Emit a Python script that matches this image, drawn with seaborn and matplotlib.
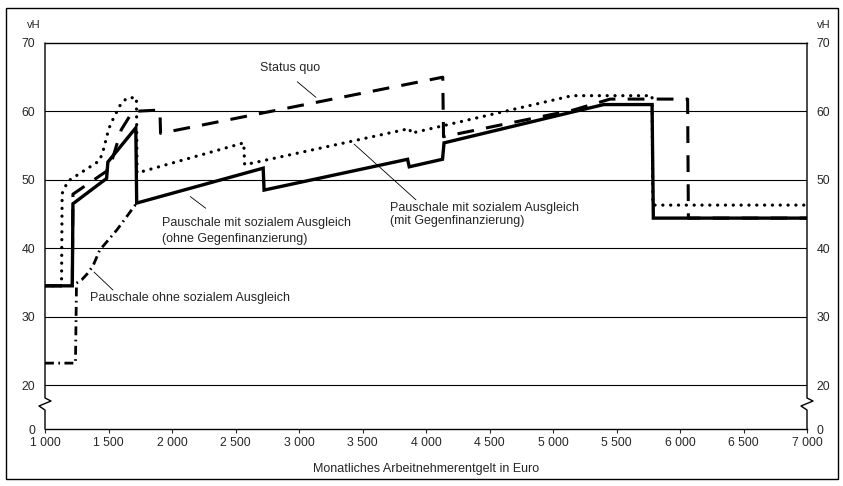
import numpy as np
import pandas as pd
import seaborn as sns
import matplotlib
matplotlib.use("Agg")
from matplotlib import pyplot as plt
from matplotlib.patches import Rectangle

# Grenzbelastung in vH nach monatlichem Arbeitnehmerentgelt (Euro)
solid_x = [1000, 1215, 1220, 1485, 1495, 1715, 1722, 2718, 2725, 3855, 3868, 4130, 4142, 5150, 5400, 5780, 5790, 7000]
solid_y = [34.5, 34.5, 46.5, 50.2, 52.6, 57.6, 46.6, 51.7, 48.5, 53.0, 51.9, 53.0, 55.4, 59.9, 61.0, 61.0, 44.4, 44.4]

dotted_x = [1000, 1130, 1135, 1180, 1430, 1460, 1500, 1520, 1600, 1650, 1720, 1725, 2565, 2572, 3872, 3880, 5150, 5780, 5786, 7000]
dotted_y = [34.5, 34.5, 48.0, 49.8, 52.8, 54.4, 57.3, 58.3, 61.2, 62.0, 62.0, 51.0, 55.4, 52.2, 57.5, 56.8, 62.3, 62.3, 46.3, 46.3]

status_x = [1000, 1215, 1220, 1488, 1495, 1530, 1600, 1690, 1905, 1910, 4132, 4138, 5160, 5450, 6060, 6066, 7000]
status_y = [34.5, 34.5, 47.9, 51.3, 52.5, 53.0, 57.3, 60.0, 60.2, 56.8, 65.0, 56.3, 60.2, 61.8, 61.8, 44.4, 44.4]

ohne_x = [1000, 1240, 1248, 1290, 1340, 1380, 1430, 1567, 1722]
ohne_y = [23.2, 23.2, 34.9, 35.4, 36.4, 37.5, 39.7, 42.7, 46.6]

x_ticks = [1000, 1500, 2000, 2500, 3000, 3500, 4000, 4500, 5000, 5500, 6000, 6500, 7000]
y_ticks = [0, 20, 30, 40, 50, 60, 70]

sns.set_style("white")
plt.rcParams["font.family"] = ["Liberation Sans", "DejaVu Sans"]
plt.rcParams["font.size"] = 9

W, H = 843, 486
fig = plt.figure(figsize=(W / 100, H / 100), dpi=100)
ax = fig.add_axes([45 / W, 1 - 429 / H, 762 / W, 386 / H])

# squeeze the 0-20 band (axis break)
SQ = 0.3215
def fwd(y):
    y = np.asarray(y, dtype=float)
    return np.where(y >= 20, y, 20 - (20 - y) * SQ)
def inv(z):
    z = np.asarray(z, dtype=float)
    return np.where(z >= 20, z, 20 - (20 - z) / SQ)
ax.set_yscale("function", functions=(fwd, inv))

styles = [
    (ohne_x, ohne_y, dict(lw=2.0, ls=(0, (3.2, 1.6, 0.6, 1.6)))),
    (status_x, status_y, dict(lw=2.2, ls=(0, (5.5, 4.0)))),
    (dotted_x, dotted_y, dict(lw=2.3, ls=(0, (0.05, 2.4)), dash_capstyle="round")),
    (solid_x, solid_y, dict(lw=2.4, ls="-")),
]
for xs, ys, kw in styles:
    df = pd.DataFrame({"x": xs, "y": ys})
    sns.lineplot(data=df, x="x", y="y", ax=ax, sort=False, estimator=None,
                 color="black", solid_joinstyle="miter", **kw)

ax.set_xlim(1000, 7000)
ax.set_ylim(0, 70)
ax.set_xticks(x_ticks)
ax.set_xticklabels([f"{v:,}".replace(",", " ") for v in x_ticks])
ax.set_yticks(y_ticks)
ax.set_yticklabels([str(v) for v in y_ticks])
ax.tick_params(axis="x", direction="out", length=3, width=0.8, pad=3, labelsize=8.8, bottom=True)
ax.tick_params(axis="y", length=0, pad=7, labelsize=8.8, left=False, right=False,
               labelleft=True, labelright=True)
ax.set_xlabel("Monatliches Arbeitnehmerentgelt in Euro", fontsize=9, labelpad=10)
ax.set_ylabel("")

ax.grid(False)
for v in y_ticks[1:-1]:
    ax.axhline(v, color="black", lw=0.8, zorder=0.5)

for s in ("left", "right"):
    ax.spines[s].set_visible(False)
for s in ("top", "bottom"):
    ax.spines[s].set_color("black")
    ax.spines[s].set_linewidth(1.0)

# left/right spines with break marks
dx = 6 / 762
for xa in (0, 1):
    ax.plot([xa, xa, xa + dx, xa - dx, xa, xa],
            [1, 0.0803, 0.0725, 0.0596, 0.0492, 0],
            transform=ax.transAxes, clip_on=False, color="black", lw=1.0)

fig.text(34 / W, 1 - 25 / H, "vH", ha="center", va="center", fontsize=8)
fig.text(824 / W, 1 - 25 / H, "vH", ha="center", va="center", fontsize=8)

# labels with leader lines
lead = dict(arrowstyle="-", color="black", lw=0.6)
ax.text(2929, 66.3, "Status quo", ha="center", va="center", fontsize=9)
ax.annotate("", xy=(3150, 61.8), xytext=(2969, 64.6), arrowprops=lead)

ax.text(1921, 42.5, "Pauschale mit sozialem Ausgleich\n(ohne Gegenfinanzierung)",
        ha="left", va="center", fontsize=9, linespacing=1.4)
ax.annotate("", xy=(2283, 45.6), xytext=(2126, 47.8), arrowprops=lead)

ax.text(3717, 44.9, "Pauschale mit sozialem Ausgleich\n(mit Gegenfinanzierung)",
        ha="left", va="center", fontsize=9, linespacing=1.1)
ax.annotate("", xy=(3937, 46.8), xytext=(3417, 55.5), arrowprops=lead)

ax.text(1354, 32.7, "Pauschale ohne sozialem Ausgleich", ha="left", va="center", fontsize=9)
ax.annotate("", xy=(1551, 33.6), xytext=(1370, 36.8), arrowprops=lead)

fig.add_artist(Rectangle((6 / W, 1 - 479 / H), 832 / W, 471 / H, transform=fig.transFigure,
                         fill=False, lw=1.0, ec="black"))

fig.savefig("out.png", dpi=100)
